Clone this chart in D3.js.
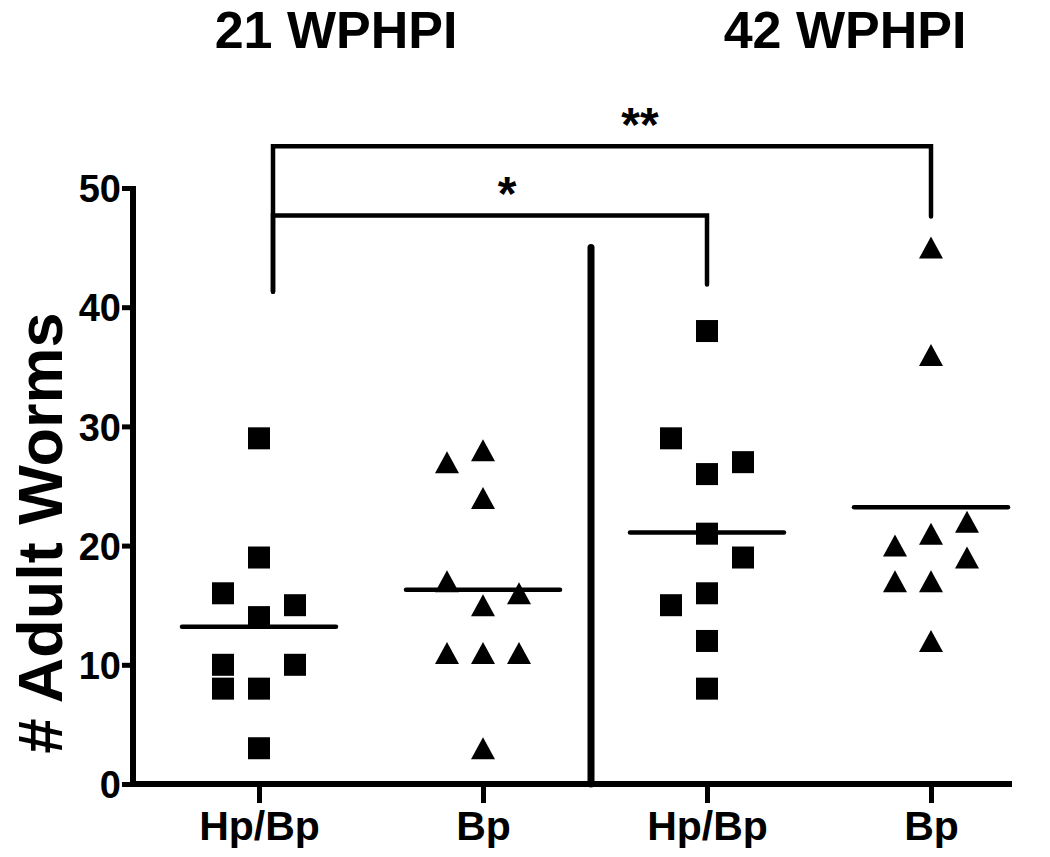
<!DOCTYPE html>
<html lang="en">
<head>
  <meta charset="UTF-8">
  <title>Adult Worms</title>
  <script src="https://d3js.org/d3.v7.min.js"></script>
  <style>
    body { margin: 0; background: #fff; font-family: "Liberation Sans", Arial, sans-serif; }
    text { font-weight: bold; fill: #000; }
  </style>
</head>
<body>
  <svg width="1050" height="857"></svg>
  <script>
    // groups along the x axis
    const groups = ["hp21", "bp21", "hp42", "bp42"];
    const groupLabels = ["Hp/Bp", "Bp", "Hp/Bp", "Bp"];
    const groupShape = ["square", "triangle", "square", "triangle"];
    const periods = ["21 WPHPI", "42 WPHPI"];

    // worm counts per animal
    const hp21 = [29, 19, 16, 15, 14, 10, 10, 8, 8, 3];
    const bp21 = [28, 27, 24, 17, 16, 15, 11, 11, 11, 3];
    const hp42 = [38, 29, 27, 26, 21, 19, 16, 15, 12, 8];
    const bp42 = [45, 36, 22, 21, 20, 19, 17, 17, 12];

    // which scatter column (-1 left, 0 middle, 1 right) each point sits in
    const hp21Col = [0, 0, -1, 1, 0, -1, 1, -1, 0, 0];
    const bp21Col = [0, -1, 0, -1, 1, 0, -1, 0, 1, 0];
    const hp42Col = [0, -1, 1, 0, 0, 1, 0, -1, 0, 0];
    const bp42Col = [0, 0, 1, 0, -1, 1, -1, 0, 0];

    const yTicks = [0, 10, 20, 30, 40, 50];

    // significance brackets: from group, to group, level, leg bottoms, label
    const brackets = [
      { from: "hp21", to: "bp42", level: 53.5, leftEnd: 41.3, rightEnd: 47.6, label: "**", dx: 38 },
      { from: "hp21", to: "hp42", level: 47.7, leftEnd: 41.3, rightEnd: 41.9, label: "*", dx: 17 }
    ];
    const dividerTop = 45;

    const values = [hp21, bp21, hp42, bp42];
    const cols = [hp21Col, bp21Col, hp42Col, bp42Col];

    const svg = d3.select("svg");

    const x = d3.scalePoint().domain(groups).range([259, 931]);
    const y = d3.scaleLinear().domain([0, 50]).range([784, 188]);
    const jitter = d3.scaleLinear().domain([-1, 1]).range([-36, 36]);

    // y axis
    const yAxis = svg.append("g")
      .attr("transform", "translate(133,0)")
      .call(d3.axisLeft(y).tickValues(yTicks).tickSize(11).tickSizeOuter(0).tickPadding(1));
    yAxis.select(".domain").attr("stroke-width", 6).attr("d", `M0,${y(50) - 2}V${y(0) + 3}`);
    yAxis.selectAll(".tick line").attr("stroke-width", 5);
    yAxis.selectAll(".tick text")
      .attr("font-size", 38).attr("font-weight", "bold")
      .attr("font-family", "Liberation Sans, Arial, sans-serif")
      .attr("dy", "0.36em");

    // x axis
    svg.append("line")
      .attr("x1", 130).attr("x2", 1012)
      .attr("y1", y(0)).attr("y2", y(0))
      .attr("stroke", "#000").attr("stroke-width", 6);
    const xAxis = svg.append("g")
      .attr("transform", `translate(0,${y(0)})`)
      .call(d3.axisBottom(x).tickSize(19).tickSizeOuter(0).tickPadding(8)
        .tickFormat((d, i) => groupLabels[i]));
    xAxis.select(".domain").remove();
    xAxis.selectAll(".tick line").attr("stroke-width", 5);
    xAxis.selectAll(".tick text")
      .attr("font-size", 41).attr("font-weight", "bold")
      .attr("font-family", "Liberation Sans, Arial, sans-serif");

    // y label
    svg.append("text")
      .attr("transform", "translate(62,533) rotate(-90)")
      .attr("text-anchor", "middle")
      .attr("font-size", 63)
      .text("# Adult Worms");

    // period titles
    svg.selectAll(".period")
      .data(periods)
      .enter().append("text")
      .attr("class", "period")
      .attr("x", (d, i) => i === 0 ? 336 : 845)
      .attr("y", 48)
      .attr("text-anchor", "middle")
      .attr("font-size", 52)
      .text(d => d);

    // divider between the two time points
    const midX = (x("bp21") + x("hp42")) / 2 - 4;
    svg.append("line")
      .attr("x1", midX).attr("x2", midX)
      .attr("y1", y(dividerTop)).attr("y2", y(0))
      .attr("stroke", "#000").attr("stroke-width", 7)
      .attr("stroke-linecap", "round");

    // points
    const triangle = "M0,-11L12,11L-12,11Z";
    groups.forEach((g, gi) => {
      const pts = values[gi].map((v, i) => ({ v, c: cols[gi][i] }));
      const layer = svg.append("g");
      if (groupShape[gi] === "square") {
        layer.selectAll("rect")
          .data(pts)
          .enter().append("rect")
          .attr("x", d => x(g) + jitter(d.c) - 11)
          .attr("y", d => y(d.v) - 11)
          .attr("width", 22).attr("height", 22)
          .attr("fill", "#000");
      } else {
        layer.selectAll("path")
          .data(pts)
          .enter().append("path")
          .attr("d", triangle)
          .attr("transform", d => `translate(${x(g) + jitter(d.c)},${y(d.v)})`)
          .attr("fill", "#000");
      }
      const m = d3.mean(values[gi]);
      layer.append("line")
        .attr("x1", x(g) - 77).attr("x2", x(g) + 77)
        .attr("y1", y(m)).attr("y2", y(m))
        .attr("stroke", "#000").attr("stroke-width", 4.5)
        .attr("stroke-linecap", "round");
    });

    // brackets
    brackets.forEach(b => {
      const x1 = x(b.from) + 14, x2 = x(b.to);
      svg.append("path")
        .attr("d", `M${x1},${y(b.leftEnd)}V${y(b.level)}H${x2}V${y(b.rightEnd)}`)
        .attr("fill", "none")
        .attr("stroke", "#000").attr("stroke-width", 4.5)
        .attr("stroke-linecap", "round");
      svg.append("text")
        .attr("x", (x1 + x2) / 2 + b.dx)
        .attr("y", y(b.level) - 5)
        .attr("text-anchor", "middle")
        .attr("font-size", 48)
        .text(b.label);
    });
  </script>
</body>
</html>
